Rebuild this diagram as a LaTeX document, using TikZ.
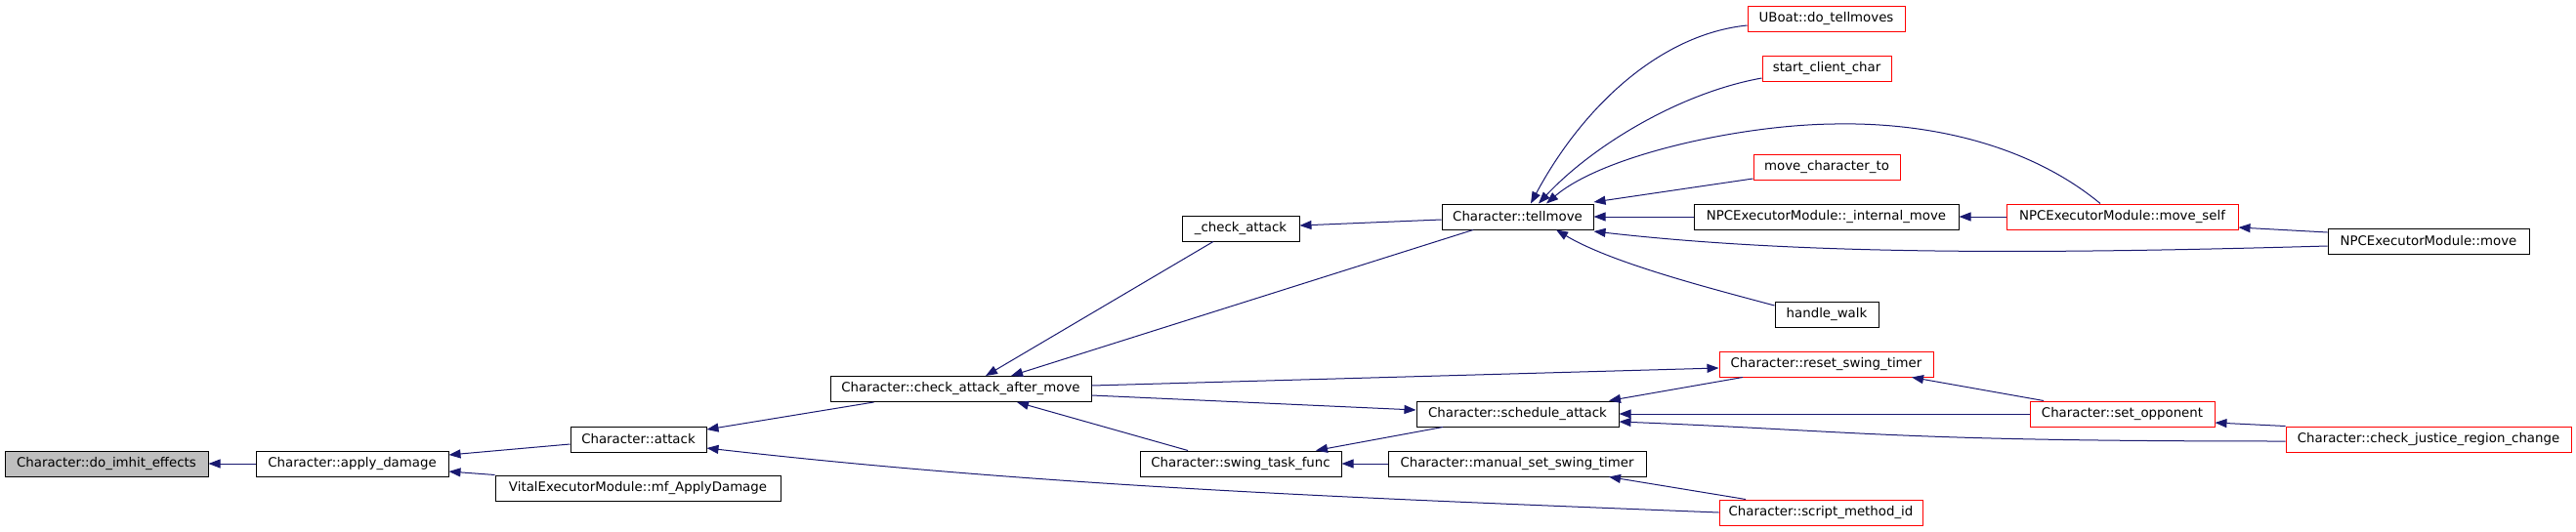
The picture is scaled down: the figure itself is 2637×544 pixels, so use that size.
\documentclass[tikz,border=0pt]{standalone}
\usepackage{fontspec}
\usetikzlibrary{arrows.meta,calc}
\newfontfamily\dvsans{DejaVu Sans}
\definecolor{edgeblue}{HTML}{191970}
\definecolor{boxgray}{HTML}{BFBFBF}
\newcommand\nodefont{\dvsans\fontsize{13.33pt}{16pt}\selectfont}
\tikzset{
  box/.style={draw=black, line width=1pt, minimum height=26pt, inner sep=0pt, font=\nodefont},
  rbox/.style={box, draw=red},
  gbox/.style={box, fill=boxgray},
  edge/.style={draw=edgeblue, line width=1pt, -{Triangle[length=12pt,width=9pt]}}
}
\begin{document}
\begin{tikzpicture}[x=1pt,y=-1pt]
\useasboundingbox (0,0) rectangle (2637,544);
% nodes
\node[gbox, minimum width=208pt] (imhit) at (109,475) {Character::do\_imhit\_effects};
\node[box, minimum width=197pt] (apply) at (360.5,475) {Character::apply\_damage};
\node[box, minimum width=139pt] (attack) at (653.5,450) {Character::attack};
\node[box, minimum width=292pt] (vital) at (653,500) {VitalExecutorModule::mf\_ApplyDamage};
\node[box, minimum width=267pt] (catm) at (983.5,398.5) {Character::check\_attack\_after\_move};
\node[box, minimum width=120pt] (chk) at (1270,234) {\_check\_attack};
\node[box, minimum width=155pt] (tell) at (1553.5,222) {Character::tellmove};
\node[box, minimum width=207pt] (sched) at (1553.5,424) {Character::schedule\_attack};
\node[box, minimum width=206pt] (swing) at (1270,475) {Character::swing\_task\_func};
\node[box, minimum width=264pt] (manual) at (1553,475) {Character::manual\_set\_swing\_timer};
\node[rbox, minimum width=208pt] (script) at (1864,525) {Character::script\_method\_id};
\node[rbox, minimum width=161pt] (uboat) at (1869.5,19) {UBoat::do\_tellmoves};
\node[rbox, minimum width=132pt] (start) at (1870,70) {start\_client\_char};
\node[rbox, minimum width=150pt] (mct) at (1870,171) {move\_character\_to};
\node[box, minimum width=271pt] (intm) at (1869.5,222) {NPCExecutorModule::\_internal\_move};
\node[box, minimum width=106pt] (walk) at (1870,322) {handle\_walk};
\node[rbox, minimum width=219pt] (reset) at (1869.5,373) {Character::reset\_swing\_timer};
\node[rbox, minimum width=237pt] (mself) at (2172.5,222) {NPCExecutorModule::move\_self};
\node[rbox, minimum width=189pt] (setop) at (2172.5,424) {Character::set\_opponent};
\node[box, minimum width=206pt] (move) at (2486,247) {NPCExecutorModule::move};
\node[rbox, minimum width=292pt] (cjrc) at (2486,450) {Character::check\_justice\_region\_change};
% edges (caller -> callee)
\draw[edge] (apply.west) -- (imhit.east);
\draw[edge] ([yshift=-5pt]attack.west) -- ([yshift=9pt]apply.east);
\draw[edge] (vital.north west) -- ([yshift=-8pt]apply.east);
\draw[edge] ([xshift=45pt]catm.south west) -- ([yshift=10pt]attack.east);
\draw[edge] (script.west) .. controls +(-350,-14) and +(350,40) .. ([yshift=-9pt]attack.east);
\draw[edge] ([xshift=-28pt]chk.south) -- ([xshift=25.5pt]catm.north);
\draw[edge] ([xshift=-45.5pt]tell.south) -- ([xshift=51.5pt]catm.north);
\draw[edge] ([xshift=-54pt]swing.north) -- ([xshift=57.5pt]catm.south);
\draw[edge] ([yshift=-6.5pt]catm.east) -- ([yshift=4pt]sched.west);
\draw[edge] ([yshift=3.5pt]catm.east) -- ([yshift=-4pt]reset.west);
\draw[edge] ([xshift=-76.5pt]sched.south) -- ([xshift=77pt]swing.north);
\draw[edge] (manual.west) -- (swing.east);
\draw[edge] ([xshift=-85.5pt]reset.south) -- ([xshift=93.5pt]sched.north);
\draw[edge] (setop.west) -- (sched.east);
\draw[edge] ([yshift=-2pt]cjrc.west) .. controls +(-400,0) and +(250,10) .. ([yshift=-8pt]sched.east);
\draw[edge] ([xshift=-80.5pt]setop.north) -- ([xshift=87.5pt]reset.south);
\draw[edge] (cjrc.north west) -- ([yshift=-9pt]setop.east);
\draw[edge] ([xshift=-77pt]script.north) -- ([xshift=94pt]manual.south);
\draw[edge] (mself.west) -- (intm.east);
\draw[edge] (intm.west) -- (tell.east);
\draw[edge] ([yshift=9pt]move.west) -- ([yshift=-11pt]mself.east);
\draw[edge] ([yshift=-5pt]move.west) .. controls +(-283,8) and +(219,25) .. ([yshift=-15pt]tell.east);
\coordinate (peak) at (1878,127);
\draw[edge] ([xshift=-22.5pt]mself.north) .. controls +(-70,-58) and +(102,-2) .. (peak) .. controls +(-98,1) and +(57,-49) .. ([xshift=29.5pt]tell.north);
\draw[edge] ([yshift=-7pt]uboat.west) .. controls +(-89,9) and +(53,-99) .. ([xshift=13.5pt]tell.north);
\draw[edge] ([yshift=-10pt]start.west) .. controls +(-84,15) and +(55,-59) .. ([xshift=21.5pt]tell.north);
\draw[edge] ([yshift=-12pt]mct.west) -- ([yshift=15pt]tell.east);
\draw[edge] ([yshift=9pt]walk.west) .. controls +(-67,-18) and +(57,34) .. ([xshift=39.5pt]tell.south);
\draw[edge] ([yshift=-3pt]tell.west) -- ([yshift=3pt]chk.east);
\end{tikzpicture}
\end{document}
